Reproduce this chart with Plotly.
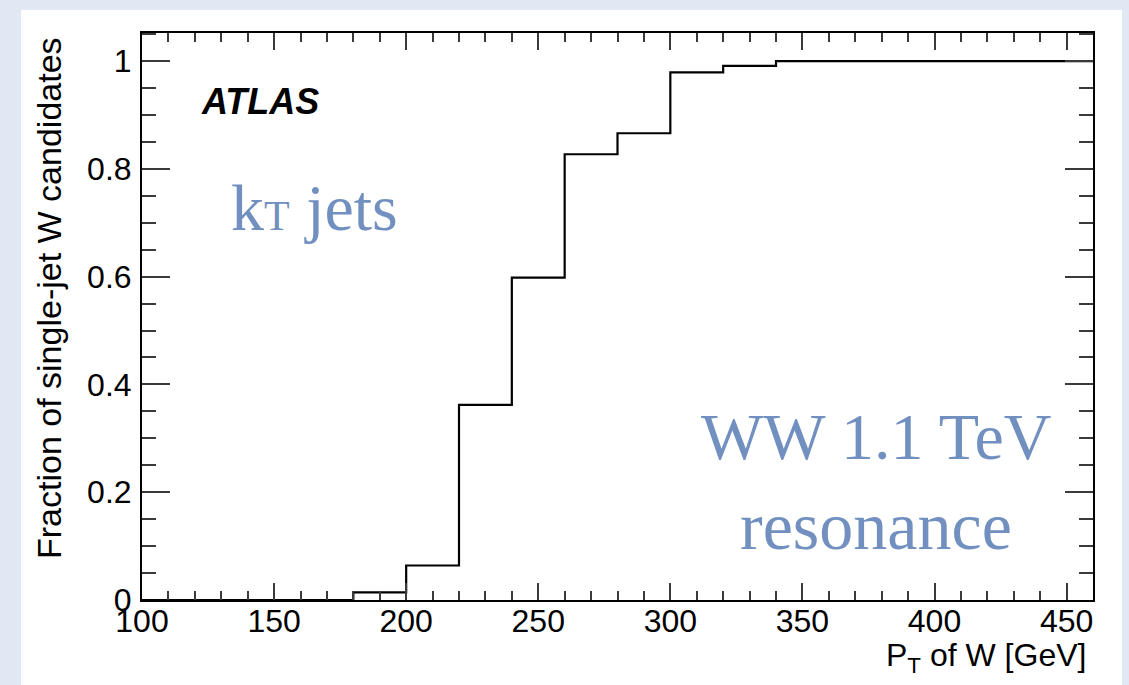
import plotly.graph_objects as go

# ---- data ----
bin_edges = [100, 120, 140, 160, 180, 200, 220, 240, 260, 280, 300, 320, 340,
             360, 380, 400, 420, 440, 460]
fractions = [0.0, 0.0, 0.0, 0.0, 0.014, 0.064, 0.362, 0.598, 0.827, 0.866,
             0.979, 0.991, 1.0, 1.0, 1.0, 1.0, 1.0, 1.0]
x_tick_vals = [100, 150, 200, 250, 300, 350, 400, 450]
y_tick_vals = [0, 0.2, 0.4, 0.6, 0.8, 1.0]
y_tick_text = ["0", "0.2", "0.4", "0.6", "0.8", "1"]

W, H = 1129, 685
ML, MR, MT, MB = 142, 36, 33, 85
PW, PH = W - ML - MR, H - MT - MB

def px(xp):
    return (xp - ML) / PW

def py(yp):
    return (H - MB - yp) / PH

blue_txt = "#7190c0"
sans = "Liberation Sans, Arial, Helvetica, sans-serif"
serif = "Liberation Serif, Times New Roman, serif"

fig = go.Figure()
fig.add_trace(go.Scatter(
    x=bin_edges,
    y=fractions + [fractions[-1]],
    mode="lines",
    line=dict(shape="hv", color="black", width=2.2),
    showlegend=False,
    hoverinfo="skip",
))

axis_common = dict(
    showline=True, linecolor="black", linewidth=2, mirror="ticks",
    ticks="inside", tickcolor="#3a3a3a", tickwidth=2,
    showgrid=False, zeroline=False,
    tickfont=dict(family=sans, size=32, color="black"),
)

fig.update_xaxes(
    range=[100, 460], tickvals=x_tick_vals, ticklen=17,
    minor=dict(dtick=10, tick0=100, ticklen=9, ticks="inside",
               tickcolor="#3a3a3a", tickwidth=2, showgrid=False),
    ticklabelstandoff=-8,
    **axis_common,
)
fig.update_yaxes(
    range=[0, 1.052], tickvals=y_tick_vals, ticktext=y_tick_text, ticklen=28,
    minor=dict(dtick=0.05, tick0=0, ticklen=14, ticks="inside",
               tickcolor="#3a3a3a", tickwidth=2, showgrid=False),
    ticklabelstandoff=2,
    **axis_common,
)

annotations = [
    dict(text="Fraction of single-jet W candidates", textangle=-90,
         x=px(49), y=py(298), xanchor="center", yanchor="middle",
         font=dict(family=sans, size=34, color="black")),
    dict(text="P<sub>T</sub> of W [GeV]",
         x=px(1088), y=py(657), xanchor="right", yanchor="middle",
         font=dict(family=sans, size=32, color="black")),
    dict(text="<b><i>ATLAS</i></b>",
         x=px(260), y=py(101), xanchor="center", yanchor="middle",
         font=dict(family=sans, size=36, color="black")),
    dict(text="k<span style='font-size:42px'>T</span> jets",
         x=px(314), y=py(207), xanchor="center", yanchor="middle",
         font=dict(family=serif, size=66, color=blue_txt)),
    dict(text="WW 1.1 TeV",
         x=px(876), y=py(436), xanchor="center", yanchor="middle",
         font=dict(family=serif, size=66, color=blue_txt)),
    dict(text="resonance",
         x=px(876), y=py(526), xanchor="center", yanchor="middle",
         font=dict(family=serif, size=68, color=blue_txt)),
]
for a in annotations:
    a.update(xref="paper", yref="paper", showarrow=False)

fig.update_layout(
    width=W, height=H,
    margin=dict(l=ML, r=MR, t=MT, b=MB, pad=0),
    paper_bgcolor="#dfe8f3",
    plot_bgcolor="white",
    annotations=annotations,
    shapes=[dict(type="rect", xref="paper", yref="paper",
                 x0=px(21), x1=px(1122), y0=py(690), y1=py(10),
                 fillcolor="white", line=dict(width=0), layer="below")],
)

fig.write_html(
    "out.html",
    config={"displayModeBar": False},
    post_script="document.body.style.margin='0';document.body.style.overflow='hidden';",
)
